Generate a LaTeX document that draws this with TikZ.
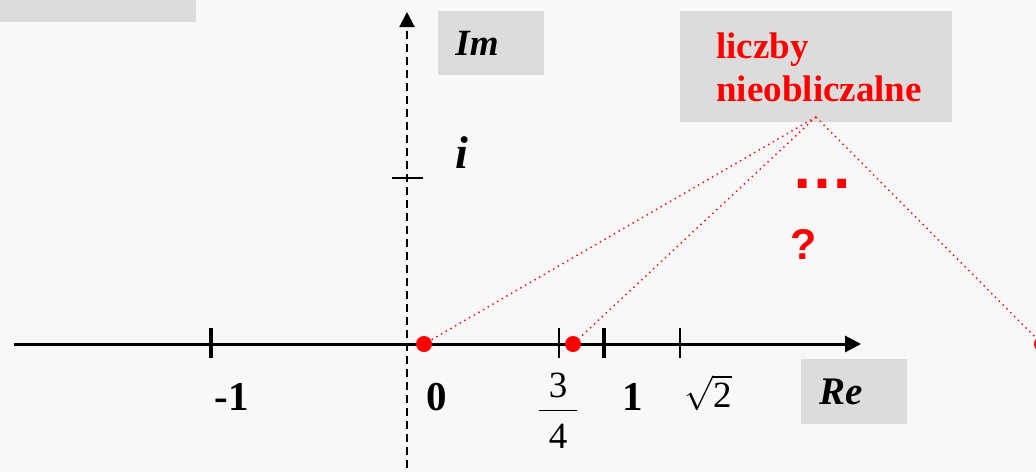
\documentclass[tikz,border=0pt]{standalone}
\usepackage{fontspec}
\setmainfont{Liberation Serif}
\newfontfamily\arialfont{Liberation Sans}
\usetikzlibrary{arrows.meta}
\definecolor{slidebg}{HTML}{F8F8F8}
\definecolor{boxgray}{HTML}{DCDCDC}

\begin{document}
\begin{tikzpicture}[x=0.5pt, y=-0.5pt, font=\fontsize{18.5}{21.5}\selectfont\bfseries,
    box/.style={fill=boxgray, anchor=north west, align=left, inner ysep=0pt},
    dot/.style={circle, fill=red, inner sep=0pt, minimum size=8pt},
    link/.style={red, dotted, line width=0.7pt},
    numlbl/.style={anchor=base, inner sep=0pt, font=\fontsize{20.5}{24}\selectfont\bfseries}]
    \fill[slidebg] (0,0) rectangle (1036,472);
    \useasboundingbox (0,0) rectangle (1036,472);
    \fill[boxgray] (0,0) rectangle (196,22);

    % axes
    \coordinate (xs) at (14,344);
    \coordinate (xe) at (861,344);
    \coordinate (ys) at (407,468);
    \coordinate (ye) at (407,12);
    \draw[line width=1.5pt, -{Triangle[length=8pt, width=8pt]}] (xs) -- (xe);
    \draw[line width=1pt, dash pattern=on 4pt off 2.5pt, -{Triangle[length=7.5pt, width=7.5pt]}] (ys) -- (ye);
    \foreach \x/\w in {211/2pt, 559/1pt, 604/2pt, 680/1pt}
        \draw[line width=\w] (\x,328) -- (\x,358);
    \draw[line width=1pt] (392,178) -- (423,178);

    % labels
    \node[box, text width=36pt, inner xsep=8.5pt, minimum height=32pt, font=\fontsize{18.5}{21.5}\selectfont\bfseries\itshape] (im) at (438,11) {Im};
    \node[box, text width=35pt, inner xsep=9pt, minimum height=32.5pt, font=\fontsize{19.5}{21.5}\selectfont\bfseries\itshape] (re) at (801,359) {Re};
    \node[numlbl, font=\fontsize{23}{26}\selectfont\bfseries\itshape] (unit) at (462,168) {i};
    \node[numlbl] (m1) at (232,410) {-1};
    \node[numlbl] (zero) at (437,410) {0};
    \node[numlbl] (one) at (633,410) {1};
    \node[numlbl, font=\fontsize{18.5}{21.5}\selectfont] (frac) at (558,397)
        {\begin{tabular}[t]{@{\hspace{5.1pt}}c@{\hspace{5.1pt}}}3\\\hline\rule{0pt}{19pt}4\end{tabular}};
    \node[numlbl, font=\fontsize{18.5}{21.5}\selectfont] (sq) at (708,407) {$\sqrt{\mbox{2}}$};

    % liczby nieobliczalne
    \node[box, text width=100pt, inner xsep=18pt, minimum height=55.5pt, text=red] (uncomp) at (680,11)
        {liczby\\\mbox{nieobliczalne}};
    \coordinate (apex) at (816,117);
    \node[numlbl, text=red, font=\arialfont\fontsize{31}{31}\selectfont\bfseries] (ell) at (822,188) {…};
    \node[numlbl, text=red, font=\arialfont\fontsize{21.5}{21.5}\selectfont\bfseries] (qm) at (804,259) {?};

    % points
    \node[dot] (p0) at (424,344) {};
    \node[dot] (p34) at (573,344) {};
    \node[dot] (pr) at (1042,344) {};
    \draw[link] (apex) -- (p0);
    \draw[link] (apex) -- (p34);
    \draw[link] (apex) -- (pr);
\end{tikzpicture}
\end{document}
